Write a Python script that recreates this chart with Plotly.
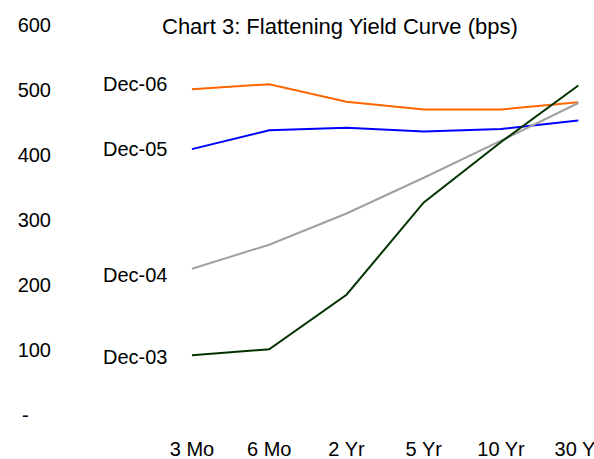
import plotly.graph_objects as go

categories = ["3 Mo", "6 Mo", "2 Yr", "5 Yr", "10 Yr", "30 Yr"]
series_names = ["Dec-06", "Dec-05", "Dec-04", "Dec-03"]
dec06 = [501, 509, 482, 470, 470, 481]
dec05 = [409, 438, 442, 436, 440, 453]
dec04 = [225, 262, 310, 365, 422, 480]
dec03 = [92, 101, 185, 327, 420, 507]
y_tickvals = [0, 100, 200, 300, 400, 500, 600]
y_ticktext = ["-\u00a0\u00a0\u00a0\u00a0", "100", "200", "300", "400", "500", "600"]

colors = ["#FF6600", "#0000FF", "#A0A0A0", "#003300"]
label_yshift = [5, 0, -6, -2]
FONT = "Liberation Sans, Arial, sans-serif"

fig = go.Figure()
xs = list(range(len(categories)))
for name, vals, col in zip(series_names, [dec06, dec05, dec04, dec03], colors):
    fig.add_trace(go.Scatter(x=xs, y=vals, mode="lines", name=name,
                             line=dict(color=col, width=2), showlegend=False))

for name, vals, ys in zip(series_names, [dec06, dec05, dec04, dec03], label_yshift):
    fig.add_annotation(x=0, y=vals[0], xref="x", yref="y", text=name,
                       showarrow=False, xanchor="right", xshift=-23, yshift=ys,
                       font=dict(size=20, color="#000000", family=FONT))

fig.add_annotation(x=(340 - 52) / (594 - 52), y=1 + (25 - 26) / 410.0, xref="paper", yref="paper",
                   text="Chart 3: Flattening Yield Curve (bps)", xanchor="center", yanchor="middle",
                   showarrow=False, font=dict(size=22, color="#000000", family=FONT))

fig.update_layout(
    width=594, height=459,
    margin=dict(l=52, r=0, t=25, b=24),
    paper_bgcolor="white", plot_bgcolor="white",
    font=dict(family=FONT, size=20, color="#000000"),
    xaxis=dict(range=[-1.811, 5.203], tickmode="array", tickvals=xs, ticktext=categories,
               showgrid=False, zeroline=False, showline=False, ticks="", ticklen=0,
               ticklabeloverflow="allow", automargin=False,
               tickfont=dict(size=20, family=FONT)),
    yaxis=dict(range=[-30.77, 600], tickmode="array", tickvals=y_tickvals, ticktext=y_ticktext,
               showgrid=False, zeroline=False, showline=False, ticks="", ticklen=0,
               automargin=False,
               tickfont=dict(size=20, family=FONT)),
)

fig.write_html("out.html")
